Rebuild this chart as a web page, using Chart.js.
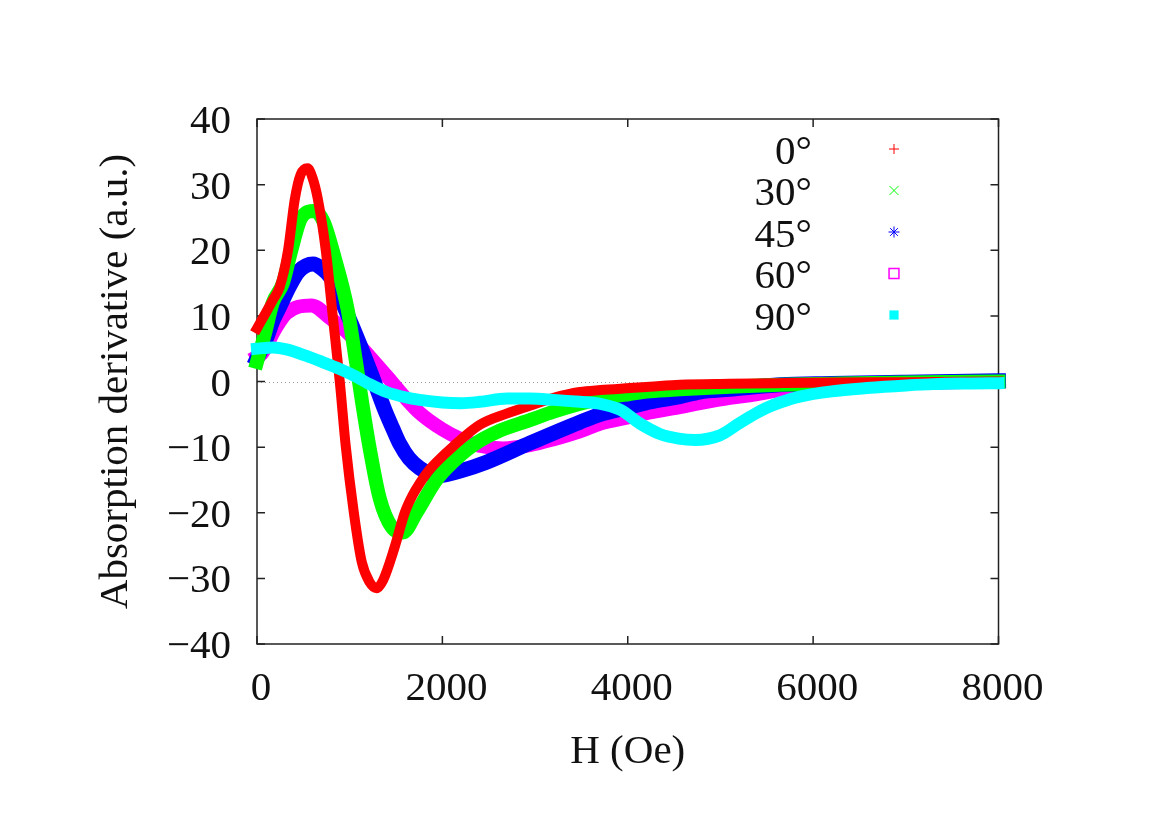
<!DOCTYPE html>
<html>
<head>
<meta charset="utf-8">
<title>Absorption derivative vs H</title>
<script src="https://cdn.jsdelivr.net/npm/chart.js@4.4.1/dist/chart.umd.min.js"></script>
<style>
    html, body { margin: 0; padding: 0; background: #fff; }
    #chart { display: block; }
</style>
</head>
<body>
<canvas id="chart" width="1170" height="827"></canvas>
<script>
// series labels and axis ticks
const angleLabels = ['0°', '30°', '45°', '60°', '90°'];
const xTicks = [0, 2000, 4000, 6000, 8000];
const yTicks = [-40, -30, -20, -10, 0, 10, 20, 30, 40];

// 0 deg
const h0 = [0, 100, 170, 245, 335, 407, 470, 545, 600, 655, 742, 817, 893, 957, 1044, 1130, 1216, 1290, 1360, 1486, 1594, 1680, 1756, 1840, 1936, 2116, 2404, 2692, 2943, 3200, 3483, 3705, 4022, 4239, 4562, 5100, 5600, 6200, 7000, 8000];
const v0 = [8.1, 10.6, 12.4, 14.4, 20.0, 27.7, 31.5, 32.5, 31.0, 27.9, 20.0, 10.0, 0.0, -9.8, -19.9, -27.5, -30.6, -31.5, -30.3, -25.2, -20.0, -17.3, -15.5, -13.8, -12.3, -9.9, -6.6, -4.9, -3.7, -2.5, -1.6, -1.3, -1.0, -0.8, -0.5, -0.35, -0.25, -0.15, -0.1, 0.0];

// 30 deg
const h30 = [0, 80, 170, 280, 370, 480, 620, 720, 839, 979, 1065, 1130, 1216, 1324, 1454, 1576, 1720, 1936, 2120, 2331, 2620, 2943, 3200, 3483, 3705, 4022, 4239, 4562, 5100, 5642, 6300, 7000, 8000];
const v30 = [3.0, 7.0, 12.0, 15.0, 20.0, 25.0, 26.0, 24.3, 18.8, 10.9, 3.3, -2.8, -10.2, -17.8, -22.2, -23.0, -20.0, -15.0, -12.2, -9.7, -7.5, -5.9, -4.6, -3.4, -2.6, -1.9, -1.5, -1.2, -0.8, -0.5, -0.3, -0.15, 0.0];

// 45 deg
const h45 = [0, 100, 173, 245, 350, 450, 605, 700, 785, 870, 946, 1030, 1108, 1238, 1378, 1460, 1540, 1640, 1756, 1860, 1972, 2200, 2476, 2943, 3483, 3705, 4022, 4239, 4562, 4778, 5102, 5642, 6200, 7000, 8000];
const v45 = [3.5, 6.5, 9.3, 11.4, 14.5, 16.8, 17.9, 17.2, 16.0, 13.8, 11.2, 8.4, 5.7, 1.0, -4.3, -7.0, -9.5, -11.7, -13.2, -14.0, -14.3, -13.6, -12.3, -9.4, -6.2, -5.0, -3.9, -3.1, -2.3, -1.6, -1.2, -0.5, -0.3, -0.1, 0.1];

// 60 deg
const h60 = [0, 50, 100, 173, 245, 317, 450, 587, 785, 965, 1216, 1450, 1600, 1756, 2000, 2188, 2400, 2655, 2943, 3200, 3483, 3705, 4022, 4239, 4562, 4778, 5102, 5316, 5642, 6000, 6500, 7000, 7500, 8000];
const v60 = [3.8, 4.2, 5.3, 7.4, 9.1, 10.4, 11.4, 11.6, 9.7, 7.6, 3.8, 0.0, -2.5, -4.8, -7.3, -8.7, -9.8, -10.2, -9.7, -8.8, -7.6, -6.4, -5.4, -4.7, -3.9, -3.3, -2.5, -2.1, -1.3, -0.7, -0.4, -0.2, -0.1, 0.0];

// 90 deg
const h90 = [0, 173, 317, 533, 700, 893, 1073, 1200, 1396, 1600, 1756, 2000, 2200, 2404, 2700, 2943, 3200, 3483, 3705, 3916, 4131, 4347, 4550, 4725, 4994, 5210, 5390, 5500, 5642, 5855, 6200, 6577, 7000, 7296, 7700, 8000];
const v90 = [5.0, 5.2, 4.9, 3.9, 3.0, 1.9, 0.7, -0.3, -1.6, -2.4, -2.8, -3.2, -3.3, -3.1, -2.6, -2.6, -2.8, -3.1, -3.4, -4.3, -6.4, -8.0, -8.7, -8.9, -8.2, -6.3, -4.8, -4.0, -3.2, -2.3, -1.5, -1.0, -0.6, -0.4, -0.3, -0.25];

const seriesH = [h0, h30, h45, h60, h90];
const seriesV = [v0, v30, v45, v60, v90];
const colors = ['#ff0000', '#00ff00', '#0000ff', '#ff00ff', '#00ffff'];
const widths = [10, 14, 15, 14, 12];
const drawOrder = [1, 2, 3, 4, 0];   // cyan on top
const markers = [
    { pointStyle: 'cross', radius: 5 },
    { pointStyle: 'crossRot', radius: 6.5 },
    { pointStyle: 'star', radius: 5.5 },
    { pointStyle: 'rect', radius: 7, open: true },
    { pointStyle: 'rect', radius: 6.5 }
];

const FONT = '41px "Liberation Serif", "DejaVu Serif", serif';
const INK = '#111';

function putText(ctx, str, x, y, align, vertical) {
    ctx.save();
    ctx.translate(x, y);
    if (vertical) ctx.rotate(-Math.PI / 2);
    ctx.font = FONT;
    ctx.fillStyle = INK;
    ctx.textAlign = align;
    ctx.textBaseline = 'alphabetic';
    ctx.fillText(str, 0, 0);
    ctx.restore();
}

function fmt(v) {
    return v < 0 ? '\u2212' + Math.abs(v) : String(v);
}

const gnuplotFrame = {
    id: 'gnuplotFrame',
    beforeDatasetsDraw(chart) {
        const ctx = chart.ctx;
        const a = chart.chartArea;
        const xs = chart.scales.x, ys = chart.scales.y;
        ctx.save();
        // dotted zero line
        const y0 = Math.round(ys.getPixelForValue(0)) + 0.5;
        ctx.strokeStyle = '#999';
        ctx.lineWidth = 1;
        ctx.setLineDash([1, 3]);
        ctx.beginPath();
        ctx.moveTo(a.left, y0);
        ctx.lineTo(a.right, y0);
        ctx.stroke();
        ctx.setLineDash([]);
        // box
        ctx.strokeStyle = '#222';
        ctx.lineWidth = 1.5;
        ctx.strokeRect(a.left, a.top, a.right - a.left, a.bottom - a.top);
        // inward ticks on all sides
        const len = 8;
        ctx.beginPath();
        xTicks.forEach(t => {
            const px = xs.getPixelForValue(t);
            ctx.moveTo(px, a.bottom); ctx.lineTo(px, a.bottom - len);
            ctx.moveTo(px, a.top); ctx.lineTo(px, a.top + len);
        });
        yTicks.forEach(t => {
            const py = ys.getPixelForValue(t);
            ctx.moveTo(a.left, py); ctx.lineTo(a.left + len, py);
            ctx.moveTo(a.right, py); ctx.lineTo(a.right - len, py);
        });
        ctx.stroke();
        ctx.restore();
    },
    afterDraw(chart) {
        const ctx = chart.ctx;
        const a = chart.chartArea;
        const xs = chart.scales.x, ys = chart.scales.y;
        xTicks.forEach(t => putText(ctx, fmt(t), xs.getPixelForValue(t) + 4, a.bottom + 56, 'center'));
        yTicks.forEach(t => putText(ctx, fmt(t), a.left - 26, ys.getPixelForValue(t) + 14, 'right'));
        putText(ctx, 'H (Oe)', (a.left + a.right) / 2, 763, 'center');
        putText(ctx, 'Absorption derivative (a.u.)', 127, (a.top + a.bottom) / 2, 'center', true);

        // key, top right inside the box
        angleLabels.forEach((lab, i) => {
            const base = 163.5 + 41.5 * i;
            putText(ctx, lab, 812, base, 'right');
            const m = markers[i];
            const cy = base - 14.5;
            ctx.save();
            ctx.strokeStyle = colors[i];
            ctx.fillStyle = m.open ? 'rgba(0,0,0,0)' : colors[i];
            ctx.lineWidth = m.open ? 1.5 : 1;
            if (Chart.helpers && Chart.helpers.drawPoint) {
                Chart.helpers.drawPoint(ctx, { pointStyle: m.pointStyle, radius: m.radius, rotation: 0, borderWidth: m.open || m.pointStyle !== 'rect' ? ctx.lineWidth : 0 }, 894, cy);
            } else {
                const s = m.radius * Math.SQRT1_2;
                if (m.open) ctx.strokeRect(894 - s, cy - s, 2 * s, 2 * s);
                else ctx.fillRect(894 - s, cy - s, 2 * s, 2 * s);
            }
            ctx.restore();
        });
    }
};

const datasets = seriesH.map((hs, i) => ({
    label: angleLabels[i],
    data: hs.map((h, k) => ({ x: h, y: seriesV[i][k] })),
    borderColor: colors[i],
    backgroundColor: colors[i],
    borderWidth: widths[i],
    borderCapStyle: 'square',
    borderJoinStyle: 'round',
    cubicInterpolationMode: 'monotone',
    pointRadius: 0,
    fill: false,
    clip: false,
    order: drawOrder[i]
}));

new Chart(document.getElementById('chart').getContext('2d'), {
    type: 'line',
    data: { datasets },
    options: {
        responsive: false,
        animation: false,
        devicePixelRatio: 1,
        layout: { padding: { left: 257, right: 171.5, top: 119, bottom: 183 } },
        plugins: { legend: { display: false }, tooltip: { enabled: false } },
        scales: {
            x: { type: 'linear', min: 0, max: 8000, display: false },
            y: { type: 'linear', min: -40, max: 40, display: false }
        }
    },
    plugins: [gnuplotFrame]
});
</script>
</body>
</html>
